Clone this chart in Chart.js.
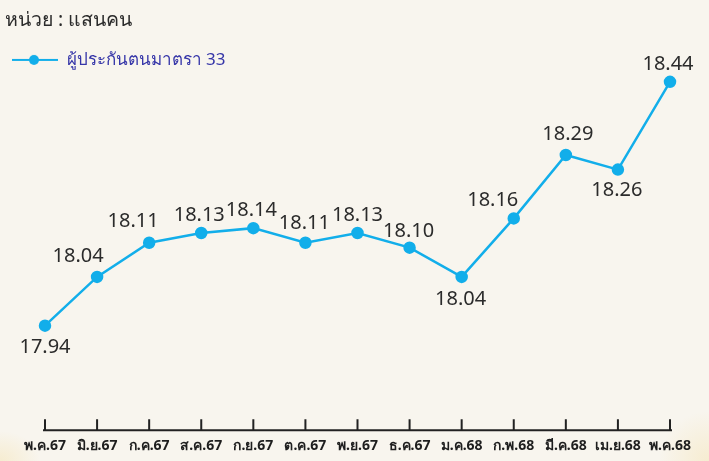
<!DOCTYPE html>
<html>
<head>
<meta charset="utf-8">
<script src="https://cdn.jsdelivr.net/npm/chart.js@4/dist/chart.umd.min.js"></script>
<style>
  html, body { margin: 0; padding: 0; background: #f8f5ee; }
  #wrap {
    position: relative; width: 709px; height: 461px;
    background:
      radial-gradient(ellipse 40px 30px at 0px 461px, #f6ecd0 0%, rgba(246,236,208,0) 100%),
      radial-gradient(ellipse 50px 50px at 709px 461px, #f6ecd0 0%, rgba(246,236,208,0) 100%),
      #f8f5ee;
  }
</style>
</head>
<body>
<div id="wrap"><canvas id="chart" width="709" height="461"></canvas></div>
<script>
const unitTitle = 'หน่วย : แสนคน';
const seriesName = 'ผู้ประกันตนมาตรา 33';
const months = ['พ.ค.67', 'มิ.ย.67', 'ก.ค.67', 'ส.ค.67', 'ก.ย.67', 'ต.ค.67', 'พ.ย.67',
                'ธ.ค.67', 'ม.ค.68', 'ก.พ.68', 'มี.ค.68', 'เม.ย.68', 'พ.ค.68'];
const insured = [17.94, 18.04, 18.11, 18.13, 18.14, 18.11, 18.13, 18.10, 18.04, 18.16, 18.29, 18.26, 18.44];

// where each value label sits relative to its point (dx, dy in px)
const labelShift = [[0, 22], [-19, -21], [-16, -21], [-2, -18], [-2, -18], [-1, -19], [0, -18],
                    [-1, -16], [-1, 22], [-21, -18], [2, -21], [-1, 21], [-2, -18]];

const lineColor = '#12aeea';

// legend icon: short line with a dot in the middle
const legendIcon = document.createElement('canvas');
legendIcon.width = 46;
legendIcon.height = 12;
(function () {
  const c = legendIcon.getContext('2d');
  c.strokeStyle = lineColor;
  c.lineWidth = 2;
  c.beginPath();
  c.moveTo(0, 6);
  c.lineTo(46, 6);
  c.stroke();
  c.fillStyle = lineColor;
  c.beginPath();
  c.arc(22, 6, 5, 0, Math.PI * 2);
  c.fill();
})();

const valueLabels = {
  id: 'valueLabels',
  afterDatasetsDraw(chart) {
    const ctx = chart.ctx;
    const meta = chart.getDatasetMeta(0);
    ctx.save();
    ctx.font = '20px "Noto Sans", "DejaVu Sans", sans-serif';
    ctx.fillStyle = '#2b2b2b';
    ctx.textAlign = 'center';
    ctx.textBaseline = 'middle';
    meta.data.forEach((pt, i) => {
      const s = labelShift[i];
      ctx.fillText(insured[i].toFixed(2), pt.x + s[0], pt.y + s[1]);
    });
    ctx.restore();
  }
};

// axis line with short upward tick marks
const axisTicks = {
  id: 'axisTicks',
  afterDraw(chart) {
    const ctx = chart.ctx;
    const x = chart.scales.x;
    const y0 = chart.chartArea.bottom;
    ctx.save();
    ctx.strokeStyle = '#222';
    ctx.lineWidth = 2;
    ctx.beginPath();
    ctx.moveTo(x.getPixelForTick(0) - 2, y0);
    ctx.lineTo(x.getPixelForTick(months.length - 1) + 2, y0);
    x.ticks.forEach((t, i) => {
      const px = x.getPixelForTick(i);
      ctx.moveTo(px, y0);
      ctx.lineTo(px, y0 - 11);
    });
    ctx.stroke();
    ctx.restore();
  }
};

new Chart(document.getElementById('chart'), {
  type: 'line',
  data: {
    labels: months,
    datasets: [{
      label: seriesName,
      data: insured,
      borderColor: lineColor,
      backgroundColor: lineColor,
      borderWidth: 2.5,
      pointRadius: 5,
      pointHoverRadius: 5,
      tension: 0,
      clip: false
    }]
  },
  options: {
    responsive: false,
    animation: false,
    layout: { padding: { left: 5, right: 39, top: 7, bottom: 0 } },
    plugins: {
      tooltip: { enabled: false },
      title: {
        display: true,
        text: unitTitle,
        align: 'start',
        color: '#2b2b2b',
        font: { family: '"Noto Sans", "DejaVu Sans", sans-serif', size: 19.5, weight: 'normal' },
        padding: { top: 2, bottom: 12 }
      },
      legend: {
        display: true,
        position: 'top',
        align: 'start',
        labels: {
          usePointStyle: true,
          pointStyleWidth: 46,
          padding: 7,
          color: '#3535a8',
          font: { family: '"Noto Sans", "DejaVu Sans", sans-serif', size: 17 },
          generateLabels: () => [{
            text: seriesName,
            pointStyle: legendIcon,
            fontColor: '#3535a8',
            fillStyle: 'transparent',
            strokeStyle: 'transparent',
            lineWidth: 0,
            datasetIndex: 0
          }]
        }
      }
    },
    scales: {
      x: {
        offset: false,
        grid: { display: false, drawTicks: false },
        border: { display: false },
        ticks: {
          autoSkip: false,
          maxRotation: 0,
          padding: 7,
          color: '#1e1e1e',
          font: { family: '"Noto Sans", "DejaVu Sans", sans-serif', size: 14, weight: 'bold' }
        }
      },
      y: {
        display: true,
        min: 17.7257,
        max: 18.447,
        grid: { display: false },
        border: { display: false },
        ticks: { display: false },
        afterFit: (s) => { s.width = 40; }
      }
    }
  },
  plugins: [valueLabels, axisTicks]
});
</script>
</body>
</html>
